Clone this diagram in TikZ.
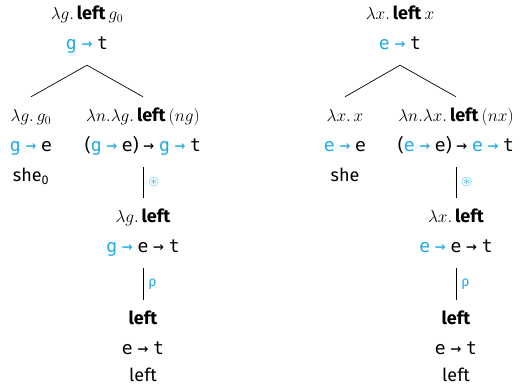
\documentclass[tikz,border=0pt]{standalone}
\usepackage{fontspec}
\usepackage{amssymb}
\setmainfont{Fira Sans}
\setmonofont{DejaVu Sans Mono}
\definecolor{tyblue}{HTML}{1EAAE6}
\newcommand{\bt}[1]{\textcolor{tyblue}{\texttt{#1}~\texttt{→}}}
\newcommand{\tp}[1]{\texttt{#1}}
\newcommand{\ar}{\texttt{→}}
\tikzset{
  lbl/.style={inner sep=0pt, minimum height=40pt, text height=13pt, text depth=4pt, font=\fontsize{18}{21}\selectfont},
  rule/.style={right, inner sep=5pt, text=tyblue, font=\fontsize{14}{16}\selectfont},
  edge/.style={line width=0.7pt}
}
\begin{document}
\begin{tikzpicture}[x=1pt, y=1pt, node distance=30pt]
    \useasboundingbox (0,0) rectangle (523,-385);
    % left tree
    \node (ar1) [lbl] at (87,-15) {$\lambda g.\,$\textbf{left}\,$g_0$};
    \node (at1) [lbl, below of=ar1] {\bt{g} \tp{t}};
    \node (al1) [lbl] at (31,-117) {$\lambda g.\,g_0$};
    \node (at2) [lbl, below of=al1] {\bt{g} \tp{e}};
    \node (aw2) [lbl, below of=at2] {she\textsubscript{0}};
    \node (ar2) [lbl] at (143,-117) {$\lambda n.\lambda g.\,$\textbf{left}\,$(ng)$};
    \node (at3) [lbl, below of=ar2] {(\bt{g} \tp{e}) \ar{} \bt{g} \tp{t}};
    \node (ad1) [lbl] at (143,-218) {$\lambda g.\,$\textbf{left}};
    \node (at4) [lbl, below of=ad1] {\bt{g} \tp{e} \ar{} \tp{t}};
    \node (ad2) [lbl] at (143,-320) {\textbf{left}};
    \node (at5) [lbl, below of=ad2] {\tp{e} \ar{} \tp{t}};
    \node (aw5) [lbl, below of=at5, yshift=3pt] {left};
    \draw[edge] (at1.south) -- (al1.north);
    \draw[edge] (at1.south) -- (ar2.north);
    \draw[edge] (at3.south) -- node[rule] {$\circledast$} (ad1.north);
    \draw[edge] (at4.south) -- node[rule] {ρ} (ad2.north);
    % right tree
    \node (br1) [lbl] at (400,-15) {$\lambda x.\,$\textbf{left}\,$x$};
    \node (bt1) [lbl, below of=br1] {\bt{e} \tp{t}};
    \node (bl1) [lbl] at (345,-117) {$\lambda x.\,x$};
    \node (bt2) [lbl, below of=bl1] {\bt{e} \tp{e}};
    \node (bw2) [lbl, below of=bt2] {she};
    \node (br2) [lbl] at (456,-117) {$\lambda n.\lambda x.\,$\textbf{left}\,$(nx)$};
    \node (bt3) [lbl, below of=br2] {(\bt{e} \tp{e}) \ar{} \bt{e} \tp{t}};
    \node (bd1) [lbl] at (456,-218) {$\lambda x.\,$\textbf{left}};
    \node (bt4) [lbl, below of=bd1] {\bt{e} \tp{e} \ar{} \tp{t}};
    \node (bd2) [lbl] at (456,-320) {\textbf{left}};
    \node (bt5) [lbl, below of=bd2] {\tp{e} \ar{} \tp{t}};
    \node (bw5) [lbl, below of=bt5, yshift=3pt] {left};
    \draw[edge] (bt1.south) -- (bl1.north);
    \draw[edge] (bt1.south) -- (br2.north);
    \draw[edge] (bt3.south) -- node[rule] {$\circledast$} (bd1.north);
    \draw[edge] (bt4.south) -- node[rule] {ρ} (bd2.north);
  \end{tikzpicture}
\end{document}
